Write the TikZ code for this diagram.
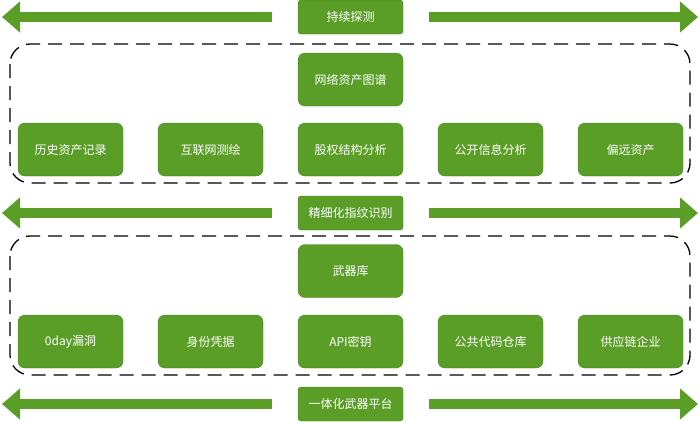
\documentclass[tikz,border=0pt]{standalone}
\usepackage{fontspec}
\setmainfont{Noto Sans CJK SC}
\usepackage{tikz}
\usetikzlibrary{arrows.meta}

\definecolor{leaf}{HTML}{5A9E28}
\tikzset{
  tile/.style={fill=leaf, draw=leaf!80!black, rounded corners=7pt, text=white,
    minimum width=105pt, minimum height=53pt, font=\fontsize{12}{14}\selectfont},
  band/.style={tile, minimum height=34pt, rounded corners=3pt},
  flow/.style={leaf, line width=10pt, -{Triangle[length=18pt,width=30pt]}},
  frame/.style={dashed, line width=1.3pt, dash pattern=on 14pt off 8pt, rounded corners=20pt}
}

\begin{document}
\begin{tikzpicture}[x=1pt,y=-1pt]
    \useasboundingbox (0,0) rectangle (700,421);

    % bands with arrows
    \foreach \y/\txt/\n in {17/持续探测/top, 213/精细化指纹识别/mid, 404/一体化武器平台/bot} {
      \node[band] (\n) at (350.5,\y) {\txt};
      \coordinate (\n-l) at (2,\y);
      \coordinate (\n-r) at (698,\y);
      \draw[flow] ([xshift=-26pt]\n.west) -- (\n-l);
      \draw[flow] ([xshift=26pt]\n.east) -- (\n-r);
    }

    % upper group
    \draw[frame] (10,44) rectangle (690,183);
    \node[tile] (graph) at (350.5,79.5) {网络资产图谱};
    \foreach \x/\txt/\n in {70.5/历史资产记录/hist, 210.5/互联网测绘/map, 350.5/股权结构分析/equity,
                            490.5/公开信息分析/osint, 630.5/偏远资产/remote} {
      \node[tile] (\n) at (\x,149.5) {\txt};
    }

    % lower group
    \draw[frame] (10,236) rectangle (690,375);
    \node[tile] (arsenal) at (350.5,271) {武器库};
    \foreach \x/\txt/\n in {70.5/0day漏洞/zeroday, 210.5/身份凭据/cred, 350.5/API密钥/apikey,
                            490.5/公共代码仓库/repo, 630.5/供应链企业/supply} {
      \node[tile] (\n) at (\x,341.5) {\txt};
    }
\end{tikzpicture}
\end{document}
